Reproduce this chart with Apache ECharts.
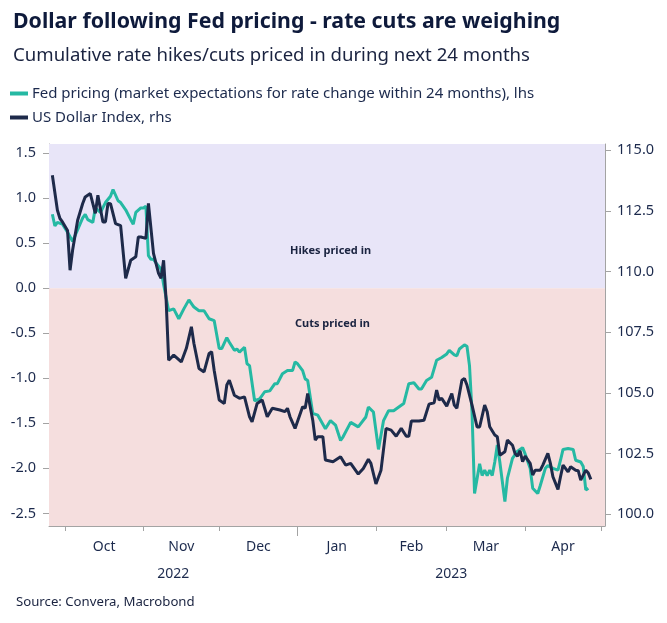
<!DOCTYPE html>
<html><head><meta charset="utf-8">
<script src="https://cdn.jsdelivr.net/npm/echarts@6/dist/echarts.min.js"></script>
<style>html,body{margin:0;padding:0;background:#fff}#c{width:667px;height:623px}</style>
</head><body><div id="c"></div>
<script>
// ---- data ----
const fedDates = ['2022-09-26','2022-09-27','2022-09-28','2022-09-30','2022-10-02','2022-10-04','2022-10-06','2022-10-08','2022-10-09','2022-10-10','2022-10-12','2022-10-13','2022-10-15','2022-10-17','2022-10-19','2022-10-20','2022-10-22','2022-10-23','2022-10-25','2022-10-27','2022-10-28','2022-10-29','2022-10-31','2022-11-01','2022-11-02','2022-11-03','2022-11-04','2022-11-05','2022-11-06','2022-11-08','2022-11-09','2022-11-11','2022-11-13','2022-11-15','2022-11-17','2022-11-19','2022-11-21','2022-11-23','2022-11-25','2022-11-27','2022-11-29','2022-12-01','2022-12-02','2022-12-04','2022-12-05','2022-12-07','2022-12-08','2022-12-09','2022-12-11','2022-12-12','2022-12-13','2022-12-15','2022-12-17','2022-12-19','2022-12-21','2022-12-23','2022-12-24','2022-12-26','2022-12-28','2022-12-30','2022-12-31','2023-01-01','2023-01-03','2023-01-04','2023-01-05','2023-01-07','2023-01-09','2023-01-12','2023-01-14','2023-01-16','2023-01-18','2023-01-19','2023-01-22','2023-01-25','2023-01-28','2023-01-29','2023-01-31','2023-02-02','2023-02-04','2023-02-06','2023-02-08','2023-02-11','2023-02-12','2023-02-14','2023-02-16','2023-02-18','2023-02-19','2023-02-21','2023-02-23','2023-02-25','2023-02-27','2023-03-01','2023-03-02','2023-03-04','2023-03-05','2023-03-06','2023-03-08','2023-03-09','2023-03-10','2023-03-11','2023-03-12','2023-03-14','2023-03-15','2023-03-16','2023-03-17','2023-03-18','2023-03-19','2023-03-20','2023-03-21','2023-03-22','2023-03-24','2023-03-25','2023-03-27','2023-03-29','2023-03-31','2023-04-01','2023-04-03','2023-04-04','2023-04-06','2023-04-07','2023-04-09','2023-04-10','2023-04-12','2023-04-14','2023-04-15','2023-04-16','2023-04-18','2023-04-20','2023-04-21','2023-04-23','2023-04-24','2023-04-25','2023-04-26'];
const fedValues = [0.82,0.69,0.73,0.71,0.62,0.52,0.65,0.78,0.82,0.76,0.73,0.89,0.84,0.95,1.02,1.095,0.97,0.95,0.87,0.76,0.71,0.84,0.89,0.89,0.91,0.36,0.32,0.32,0.28,0.21,0.04,-0.25,-0.23,-0.34,-0.23,-0.13,-0.21,-0.25,-0.25,-0.34,-0.36,-0.67,-0.67,-0.55,-0.60,-0.69,-0.675,-0.71,-0.656,-0.84,-0.86,-1.25,-1.23,-1.15,-1.14,-1.06,-1.06,-0.95,-0.915,-0.915,-0.82,-0.84,-0.915,-1.007,-1.025,-1.39,-1.41,-1.56,-1.47,-1.52,-1.69,-1.65,-1.49,-1.54,-1.43,-1.32,-1.375,-1.79,-1.47,-1.36,-1.36,-1.30,-1.28,-1.06,-1.05,-1.12,-1.12,-1.025,-0.99,-0.80,-0.77,-0.73,-0.69,-0.74,-0.75,-0.675,-0.63,-0.645,-0.86,-1.375,-2.28,-1.95,-2.08,-2.02,-2.08,-2.02,-2.08,-1.93,-1.74,-1.93,-2.37,-2.11,-1.89,-1.81,-1.77,-1.84,-2.00,-2.22,-2.28,-2.19,-2.00,-1.97,-2.00,-2.02,-1.91,-1.79,-1.78,-1.79,-1.91,-1.93,-1.98,-2.24,-2.22];

const dxyDates = ['2022-09-26','2022-09-28','2022-09-29','2022-09-30','2022-10-02','2022-10-03','2022-10-04','2022-10-06','2022-10-08','2022-10-09','2022-10-11','2022-10-13','2022-10-14','2022-10-16','2022-10-17','2022-10-18','2022-10-19','2022-10-21','2022-10-23','2022-10-25','2022-10-27','2022-10-29','2022-10-30','2022-10-31','2022-11-02','2022-11-03','2022-11-05','2022-11-07','2022-11-08','2022-11-09','2022-11-10','2022-11-11','2022-11-13','2022-11-16','2022-11-18','2022-11-20','2022-11-21','2022-11-23','2022-11-25','2022-11-27','2022-11-28','2022-11-29','2022-12-01','2022-12-03','2022-12-04','2022-12-05','2022-12-07','2022-12-09','2022-12-11','2022-12-13','2022-12-14','2022-12-16','2022-12-18','2022-12-20','2022-12-22','2022-12-25','2022-12-27','2022-12-28','2022-12-29','2022-12-31','2023-01-03','2023-01-04','2023-01-05','2023-01-07','2023-01-08','2023-01-09','2023-01-11','2023-01-12','2023-01-15','2023-01-18','2023-01-20','2023-01-22','2023-01-25','2023-01-27','2023-01-29','2023-01-30','2023-02-01','2023-02-03','2023-02-05','2023-02-07','2023-02-09','2023-02-11','2023-02-13','2023-02-14','2023-02-15','2023-02-18','2023-02-20','2023-02-22','2023-02-24','2023-02-25','2023-02-26','2023-02-27','2023-03-01','2023-03-03','2023-03-04','2023-03-05','2023-03-07','2023-03-08','2023-03-09','2023-03-11','2023-03-13','2023-03-14','2023-03-16','2023-03-17','2023-03-18','2023-03-20','2023-03-21','2023-03-22','2023-03-24','2023-03-25','2023-03-27','2023-03-28','2023-03-29','2023-03-30','2023-03-31','2023-04-01','2023-04-03','2023-04-04','2023-04-05','2023-04-07','2023-04-08','2023-04-10','2023-04-11','2023-04-12','2023-04-14','2023-04-15','2023-04-16','2023-04-18','2023-04-19','2023-04-20','2023-04-21','2023-04-22','2023-04-23','2023-04-25','2023-04-26','2023-04-27'];
const dxyValues = [113.97,112.53,112.19,112.05,111.7,110.06,110.88,112.12,112.81,113.08,113.22,112.4,113.15,112.05,112.05,112.81,112.8,111.98,111.9,109.72,110.47,110.61,111.43,111.43,111.37,112.81,110.75,109.93,109.73,110.47,108.83,106.35,106.56,106.28,106.84,107.73,107.04,106.01,105.87,106.63,106.70,105.94,104.71,104.57,105.33,105.53,104.91,104.78,104.84,104.02,103.81,104.57,104.71,104.02,104.37,104.30,104.23,104.37,104.02,103.54,104.43,104.37,104.98,103.88,103.06,103.2,103.2,102.24,102.17,102.37,102.03,102.1,101.66,101.89,102.27,102.1,101.25,101.82,103.54,103.47,103.22,103.54,103.22,103.22,103.85,103.85,103.88,104.54,104.6,105.12,104.71,104.78,104.46,104.98,104.5,104.37,105.53,105.6,105.33,104.5,103.6,103.6,104.5,104.23,103.61,103.27,103.2,102.44,102.58,103.06,102.85,102.51,102.40,102.62,102.17,102.4,102.1,101.62,101.82,101.82,102.03,102.51,102.1,101.55,101.03,101.55,102.03,101.75,101.96,101.89,101.82,101.8,101.41,101.82,101.7,101.44];

const monthLabels = ['Oct','Nov','Dec','Jan','Feb','Mar','Apr'];
const monthStarts = ['2022-10-01','2022-11-01','2022-12-01','2023-01-01','2023-02-01','2023-03-01','2023-04-01','2023-05-01'];
const yearLabels = ['2022','2023'];
const yearStart = '2023-01-01';
const leftTicks = [-2.5,-2.0,-1.5,-1.0,-0.5,0.0,0.5,1.0,1.5];
const rightTicks = [100,102.5,105,107.5,110,112.5,115];

// ---- helpers ----
const ORIGIN = Date.parse('2022-10-01T00:00:00Z');
const dayOf = s => (Date.parse(s + 'T00:00:00Z') - ORIGIN) / 864e5;
const X_MIN = -6.33, X_MAX = 213.6;
const monthDays = monthStarts.map(dayOf);
const monthMids = monthLabels.map((_, i) => (monthDays[i] + monthDays[i + 1]) / 2);
const yDay = dayOf(yearStart);
const yearMids = [(X_MIN + yDay) / 2, (yDay + X_MAX) / 2];

const TEXT = '#1c2a4d';
const FONT = 'Noto Sans';
const AXIS = '#a3a3a3';

const chart = echarts.init(document.getElementById('c'), null, {renderer: 'canvas'});
chart.setOption({
  animation: false,
  backgroundColor: '#ffffff',
  textStyle: {fontFamily: FONT},
  title: [
    {text: 'Dollar following Fed pricing - rate cuts are weighing', left: 8, top: 6,
     textStyle: {fontFamily: FONT, fontSize: 21.3, fontWeight: 'bold', color: '#0e1a3b'}},
    {text: 'Cumulative rate hikes/cuts priced in during next 24 months', left: 8, top: 41,
     textStyle: {fontFamily: FONT, fontSize: 18.6, fontWeight: 'normal', color: '#1a2340'}},
    {text: 'Source: Convera, Macrobond', left: 11, top: 591,
     textStyle: {fontFamily: FONT, fontSize: 13.2, fontWeight: 'normal', color: '#1a2340'}}
  ],
  legend: {
    orient: 'vertical', left: 5, top: 81, itemGap: 9,
    itemWidth: 18, itemHeight: 4, icon: 'rect',
    textStyle: {fontFamily: FONT, fontSize: 15, color: TEXT, padding: [0, 0, 0, -1]},
    data: ['Fed pricing (market expectations for rate change within 24 months), lhs', 'US Dollar Index, rhs']
  },
  grid: {left: 49, right: 62, top: 144, bottom: 97},
  xAxis: [
    {type: 'value', min: X_MIN, max: X_MAX, position: 'bottom',
     axisLine: {show: true, onZero: false, lineStyle: {color: AXIS, width: 1}},
     axisTick: {show: true, length: 5, lineStyle: {color: AXIS}, customValues: monthDays},
     axisLabel: {show: true, margin: 14, fontSize: 14, color: TEXT, fontFamily: FONT,
       customValues: monthMids,
       formatter: v => { let b = 0, bd = 1e9; monthMids.forEach((m, i) => { if (Math.abs(m - v) < bd) { bd = Math.abs(m - v); b = i; } }); return monthLabels[b]; }},
     splitLine: {show: false}},
    {type: 'value', min: X_MIN, max: X_MAX, position: 'bottom',
     axisLine: {show: false, onZero: false},
     axisTick: {show: true, length: 10, lineStyle: {color: AXIS}, customValues: [yDay]},
     axisLabel: {show: true, margin: 41, fontSize: 14, color: TEXT, fontFamily: FONT,
       customValues: yearMids,
       formatter: v => v < yDay ? yearLabels[0] : yearLabels[1]},
     splitLine: {show: false}}
  ],
  yAxis: [
    {type: 'value', min: -2.64, max: 1.60, position: 'left',
     axisLine: {show: true, onZero: false, lineStyle: {color: AXIS}},
     axisTick: {show: true, length: 6, lineStyle: {color: AXIS}, customValues: leftTicks},
     axisLabel: {margin: 13, fontSize: 14.5, color: TEXT, fontFamily: FONT, customValues: leftTicks,
       formatter: v => v.toFixed(1)},
     splitLine: {show: false}},
    {type: 'value', min: 99.52, max: 115.26, position: 'right',
     axisLine: {show: true, onZero: false, lineStyle: {color: AXIS}},
     axisTick: {show: true, length: 6, lineStyle: {color: AXIS}, customValues: rightTicks},
     axisLabel: {margin: 12, fontSize: 14.5, color: TEXT, fontFamily: FONT, customValues: rightTicks,
       formatter: v => v.toFixed(1)},
     splitLine: {show: false}}
  ],
  series: [
    {name: 'Fed pricing (market expectations for rate change within 24 months), lhs',
     type: 'line', xAxisIndex: 0, yAxisIndex: 0, showSymbol: false, symbol: 'none',
     color: '#25b9a3', lineStyle: {width: 3, color: '#25b9a3'},
     data: fedDates.map((d, i) => [dayOf(d), fedValues[i]]),
     markArea: {silent: true, data: [
       [{yAxis: 0, itemStyle: {color: '#e8e5f8'}}, {yAxis: 1.60}],
       [{yAxis: -2.64, itemStyle: {color: '#f5dede'}}, {yAxis: 0}]
     ]}},
    {name: 'US Dollar Index, rhs',
     type: 'line', xAxisIndex: 0, yAxisIndex: 1, showSymbol: false, symbol: 'none',
     color: '#1e2a4a', lineStyle: {width: 3, color: '#1e2a4a'},
     data: dxyDates.map((d, i) => [dayOf(d), dxyValues[i]])}
  ],
  graphic: [
    {type: 'text', z: 100, left: 290, top: 245, style: {text: 'Hikes priced in', fontFamily: FONT, fontSize: 11, fontWeight: 'bold', fill: '#1a2340'}},
    {type: 'text', z: 100, left: 295, top: 318, style: {text: 'Cuts priced in', fontFamily: FONT, fontSize: 11, fontWeight: 'bold', fill: '#1a2340'}}
  ]
});
</script></body></html>
